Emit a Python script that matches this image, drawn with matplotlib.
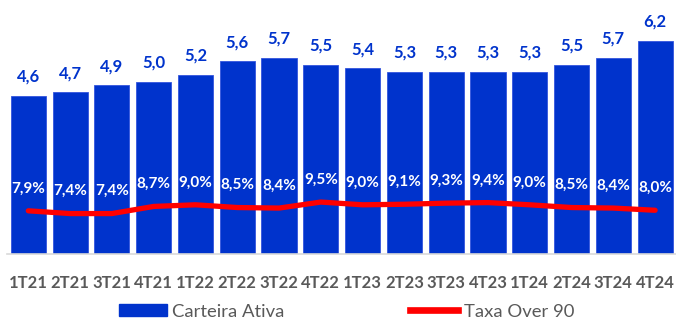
import matplotlib
matplotlib.use("Agg")
import matplotlib.pyplot as plt
from matplotlib.patches import Patch
from matplotlib.lines import Line2D

categories = ["1T21", "2T21", "3T21", "4T21", "1T22", "2T22", "3T22", "4T22",
              "1T23", "2T23", "3T23", "4T23", "1T24", "2T24", "3T24", "4T24"]
carteira = [4.6, 4.7, 4.9, 5.0, 5.2, 5.6, 5.7, 5.5, 5.4, 5.3, 5.3, 5.3, 5.3, 5.5, 5.7, 6.2]
taxa = [7.9, 7.4, 7.4, 8.7, 9.0, 8.5, 8.4, 9.5, 9.0, 9.1, 9.3, 9.4, 9.0, 8.5, 8.4, 8.0]

plt.rcParams['font.family'] = ['Lato', 'DejaVu Sans']

BLUE = "#0033CC"
RED = "#FF0000"
GRAY = "#595959"

fig = plt.figure(figsize=(6.76, 3.2), dpi=100)
ax = fig.add_axes([0.011, 0.206, 0.989, 0.753])
x = list(range(len(categories)))
ax.bar(x, carteira, width=0.84, color=BLUE, edgecolor="#3355DD", linewidth=0.6, zorder=2)
ax.set_ylim(0, 7)
ax.set_xlim(-0.5, len(categories) - 0.5)
for xi, v in zip(x, carteira):
    ax.annotate(f"{v:.1f}".replace(".", ","), (xi, v), xytext=(0, 8), textcoords="offset points",
                ha="center", va="bottom", color=BLUE, fontsize=12, fontweight="bold")

ax.set_xticks(x)
ax.set_xticklabels(categories, fontsize=12, fontweight="bold", color=GRAY)
ax.tick_params(axis="x", length=0, pad=15)
ax.set_yticks([])
for s in ["top", "left", "right"]:
    ax.spines[s].set_visible(False)
ax.spines["bottom"].set_color("#D9D9D9")
ax.spines["bottom"].set_linewidth(1.2)

ax2 = ax.twinx()
ax2.set_ylim(0, 44)
ax2.plot(x, taxa, color=RED, linewidth=3.8, solid_capstyle="round", solid_joinstyle="round", zorder=3)
for xi, v in zip(x, taxa):
    ax2.annotate(f"{v:.1f}%".replace(".", ","), (xi, v), xytext=(0, 11), textcoords="offset points",
                 ha="center", va="bottom", color="white", fontsize=11, fontweight="bold")
ax2.set_yticks([])
for s in ["top", "left", "right", "bottom"]:
    ax2.spines[s].set_visible(False)

handles = [Patch(facecolor=BLUE, edgecolor=BLUE), Line2D([0], [0], color=RED, linewidth=4.8)]
fig.legend(handles, ["Carteira Ativa", "Taxa Over 90"], loc="center", bbox_to_anchor=(0.5126, 0.026),
           ncol=2, frameon=False, fontsize=13.3, labelcolor=GRAY, handlelength=2.6,
           handleheight=0.6, handletextpad=0.3, columnspacing=6.8)

fig.savefig("out.png", dpi=100)
